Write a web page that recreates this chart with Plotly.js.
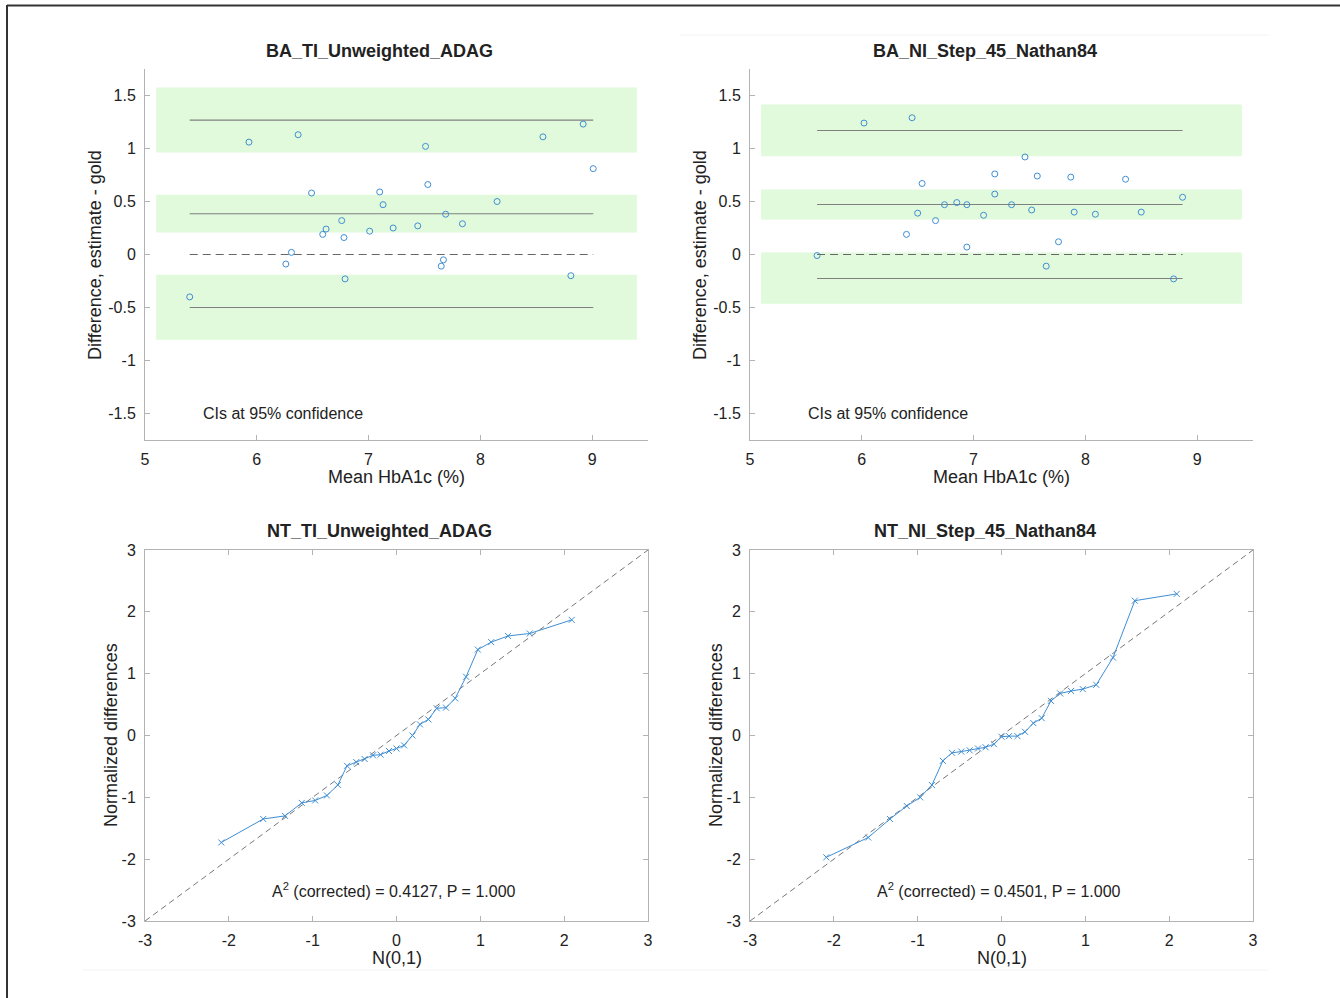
<!DOCTYPE html>
<html>
<head>
<meta charset="utf-8">
<script src="https://cdn.plot.ly/plotly-3.0.1.min.js"></script>
<style>html,body{margin:0;padding:0;background:#fff;}#chart{width:1340px;height:998px;}</style>
</head>
<body>
<div id="chart"></div>
<script>
// ---------- Data ----------
const panelTitles = ['BA_TI_Unweighted_ADAG', 'BA_NI_Step_45_Nathan84', 'NT_TI_Unweighted_ADAG', 'NT_NI_Step_45_Nathan84'];

// Bland-Altman: mean HbA1c (%) vs difference (estimate - gold)
const ba1Mean = [5.40,5.93,6.37,6.49,6.26,6.31,6.59,6.62,6.76,6.78,6.79,7.01,7.10,7.13,7.22,7.44,7.51,7.53,7.65,7.67,7.69,7.84,8.15,8.56,8.81,8.92,9.01];
const ba1Diff = [-0.40,1.06,1.13,0.58,-0.09,0.02,0.19,0.24,0.32,0.16,-0.23,0.22,0.59,0.47,0.25,0.27,1.02,0.66,-0.11,-0.05,0.38,0.29,0.50,1.11,-0.20,1.23,0.81];
const ba1Limits = [-0.500, 0.384, 1.268];               // lower LoA, bias, upper LoA
const ba1Bands = [[-0.805,-0.192],[0.208,0.563],[0.962,1.575]]; // 95% CIs

const ba2Mean = [5.60,6.02,6.45,6.40,6.50,6.54,6.66,6.74,6.85,6.94,6.94,7.09,7.19,7.19,7.34,7.46,7.52,7.57,7.65,7.76,7.87,7.90,8.09,8.36,8.50,8.79,8.87];
const ba2Diff = [-0.01,1.24,1.29,0.19,0.39,0.67,0.32,0.47,0.49,0.47,0.07,0.37,0.76,0.57,0.47,0.92,0.42,0.74,-0.11,0.12,0.73,0.40,0.38,0.71,0.40,-0.23,0.54];
const ba2Limits = [-0.226, 0.472, 1.170];
const ba2Bands = [[-0.465,0.019],[0.330,0.613],[0.927,1.415]];

// Normal probability plots
const qqQuantiles = [-2.09,-1.59,-1.33,-1.13,-0.97,-0.83,-0.70,-0.59,-0.48,-0.38,-0.28,-0.19,-0.09,0,0.09,0.19,0.28,0.38,0.48,0.59,0.70,0.83,0.97,1.13,1.33,1.59,2.09];
const nt1Values = [-1.73,-1.35,-1.30,-1.09,-1.05,-0.97,-0.80,-0.49,-0.43,-0.38,-0.32,-0.31,-0.25,-0.21,-0.16,0.00,0.18,0.26,0.44,0.45,0.60,0.95,1.39,1.51,1.61,1.65,1.87];
const nt2Values = [-1.97,-1.65,-1.35,-1.14,-1.00,-0.80,-0.41,-0.28,-0.26,-0.24,-0.21,-0.19,-0.14,-0.02,-0.01,-0.01,0.06,0.20,0.28,0.56,0.68,0.72,0.75,0.82,1.26,2.18,2.29];
const nt1Stats = 'A<sup>2</sup> (corrected) = 0.4127, P = 1.000';
const nt2Stats = 'A<sup>2</sup> (corrected) = 0.4501, P = 1.000';
const refLine = [-3, 3];

// Tick labels
const baXTicks = [5,6,7,8,9];
const baXTickText = ['5','6','7','8','9'];
const baYTicks = [-1.5,-1,-0.5,0,0.5,1,1.5];
const baYTickText = ['-1.5','-1','-0.5','0','0.5','1','1.5'];
const qqTicks = [-3,-2,-1,0,1,2,3];
const qqTickText = ['-3','-2','-1','0','1','2','3'];

// ---------- Styling ----------
const W = 1340, H = 998;
const px = x => x / W, py = y => 1 - y / H;
const FONT = 'Liberation Sans, Arial, Helvetica, sans-serif';
const blue = '#3f8ed3';
const bandColor = '#e0fadb';
const limitColor = '#808080';
const axisColor = '#b3b3b3';
const textColor = '#222222';
const bandX = [5.1, 9.4];

const traces = [];
function baPanel(xa, ya, mean, diff, limits, bands) {
  const xmin = Math.min(...mean), xmax = Math.max(...mean);
  bands.forEach(b => traces.push({
    type: 'scatter', mode: 'lines', xaxis: xa, yaxis: ya,
    x: [bandX[0], bandX[1], bandX[1], bandX[0], bandX[0]],
    y: [b[0], b[0], b[1], b[1], b[0]],
    fill: 'toself', fillcolor: bandColor, line: {width: 0}, hoverinfo: 'skip', showlegend: false
  }));
  limits.forEach(l => traces.push({
    type: 'scatter', mode: 'lines', xaxis: xa, yaxis: ya,
    x: [xmin, xmax], y: [l, l], line: {color: limitColor, width: 1.1}, showlegend: false
  }));
  traces.push({
    type: 'scatter', mode: 'lines', xaxis: xa, yaxis: ya,
    x: [xmin, xmax], y: [0, 0], line: {color: '#666', width: 1.1, dash: '8px,5px'}, showlegend: false
  });
  traces.push({
    type: 'scatter', mode: 'markers', xaxis: xa, yaxis: ya, x: mean, y: diff,
    marker: {symbol: 'circle-open', size: 6, color: blue, line: {width: 1, color: blue}}, showlegend: false
  });
}
function qqPanel(xa, ya, vals) {
  traces.push({
    type: 'scatter', mode: 'lines', xaxis: xa, yaxis: ya, x: refLine, y: refLine,
    line: {color: '#777', width: 1, dash: '6px,4px'}, showlegend: false
  });
  traces.push({
    type: 'scatter', mode: 'lines+markers', xaxis: xa, yaxis: ya, x: qqQuantiles, y: vals,
    line: {color: blue, width: 1}, marker: {symbol: 'x-thin-open', size: 6, color: blue, line: {width: 1, color: blue}},
    showlegend: false
  });
}
baPanel('x', 'y', ba1Mean, ba1Diff, ba1Limits, ba1Bands);
baPanel('x2', 'y2', ba2Mean, ba2Diff, ba2Limits, ba2Bands);
qqPanel('x3', 'y3', nt1Values);
qqPanel('x4', 'y4', nt2Values);

const colL = [px(145), px(648)], colR = [px(750), px(1253)];
const rowT = [py(440), py(69)], rowB = [py(921), py(550)];
const tickFont = {family: FONT, size: 16, color: textColor};
function ax(domain, range, tv, tt, anchor, mirror, isX) {
  return {
    domain: domain, range: range, anchor: anchor, tickvals: tv, ticktext: tt,
    showline: true, linecolor: axisColor, linewidth: 1, mirror: mirror,
    ticks: 'inside', ticklen: 5, tickcolor: axisColor, tickwidth: 1,
    showgrid: false, zeroline: false, tickfont: tickFont,
    ticklabelstandoff: isX ? 5 : 5, fixedrange: true
  };
}

const layout = {
  width: W, height: H, margin: {l: 0, r: 0, t: 0, b: 0},
  paper_bgcolor: '#fff', plot_bgcolor: '#fff', showlegend: false,
  font: {family: FONT, color: textColor},
  xaxis:  ax(colL, [5, 9.5], baXTicks, baXTickText, 'y', false, true),
  yaxis:  ax(rowT, [-1.75, 1.75], baYTicks, baYTickText, 'x', false, false),
  xaxis2: ax(colR, [5, 9.5], baXTicks, baXTickText, 'y2', false, true),
  yaxis2: ax(rowT, [-1.75, 1.75], baYTicks, baYTickText, 'x2', false, false),
  xaxis3: ax(colL, [-3, 3], qqTicks, qqTickText, 'y3', 'ticks', true),
  yaxis3: ax(rowB, [-3, 3], qqTicks, qqTickText, 'x3', 'ticks', false),
  xaxis4: ax(colR, [-3, 3], qqTicks, qqTickText, 'y4', 'ticks', true),
  yaxis4: ax(rowB, [-3, 3], qqTicks, qqTickText, 'x4', 'ticks', false),
  shapes: [
    {type: 'line', xref: 'paper', yref: 'paper', x0: px(7), x1: 1, y0: py(5.5), y1: py(5.5), line: {color: '#333', width: 2}},
    {type: 'line', xref: 'paper', yref: 'paper', x0: px(7), x1: px(7), y0: py(5), y1: 0, line: {color: '#333', width: 2}},
    {type: 'line', xref: 'paper', yref: 'paper', x0: px(680), x1: px(1268), y0: py(35), y1: py(35), line: {color: '#f2f2f2', width: 1}},
    {type: 'line', xref: 'paper', yref: 'paper', x0: px(83), x1: px(1268), y0: py(970), y1: py(970), line: {color: '#f2f2f2', width: 1}}
  ],
  annotations: []
};
const titleFont = {family: FONT, size: 18, color: textColor};
const labelFont = {family: FONT, size: 18, color: textColor};
const titlePos = [[379.5, 51], [984.5, 51], [379.5, 531], [984.5, 531]];
panelTitles.forEach((t, i) => layout.annotations.push({
  xref: 'paper', yref: 'paper', x: px(titlePos[i][0]), y: py(titlePos[i][1]),
  text: '<b>' + t + '</b>', showarrow: false, font: titleFont, xanchor: 'center', yanchor: 'middle'
}));
const axisLabels = [
  ['Mean HbA1c (%)', 396.5, 477, 0], ['Mean HbA1c (%)', 1001.5, 477, 0],
  ['N(0,1)', 396.5, 958, 0], ['N(0,1)', 1001.5, 958, 0],
  ['Difference, estimate - gold', 95, 255, -90], ['Difference, estimate - gold', 700, 255, -90],
  ['Normalized differences', 111, 735, -90], ['Normalized differences', 716, 735, -90]
];
axisLabels.forEach(a => layout.annotations.push({
  xref: 'paper', yref: 'paper', x: px(a[1]), y: py(a[2]), text: a[0], textangle: a[3],
  showarrow: false, font: labelFont, xanchor: 'center', yanchor: 'middle'
}));
const noteFont = {family: FONT, size: 16, color: textColor};
layout.annotations.push({xref: 'x', yref: 'y', x: 5.5, y: -1.5, text: 'CIs at 95% confidence', showarrow: false, xanchor: 'left', yanchor: 'middle', font: noteFont});
layout.annotations.push({xref: 'x2', yref: 'y2', x: 5.5, y: -1.5, text: 'CIs at 95% confidence', showarrow: false, xanchor: 'left', yanchor: 'middle', font: noteFont});
layout.annotations.push({xref: 'x3', yref: 'y3', x: -0.03, y: -2.5, text: nt1Stats, showarrow: false, xanchor: 'center', yanchor: 'middle', font: noteFont});
layout.annotations.push({xref: 'x4', yref: 'y4', x: -0.03, y: -2.5, text: nt2Stats, showarrow: false, xanchor: 'center', yanchor: 'middle', font: noteFont});

Plotly.newPlot('chart', traces, layout, {displayModeBar: false, staticPlot: true});
</script>
</body>
</html>
